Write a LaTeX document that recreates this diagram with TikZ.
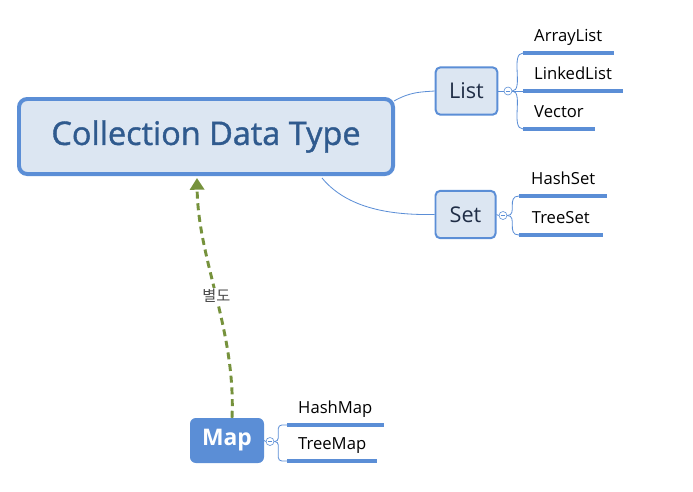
\documentclass[tikz,border=0pt]{standalone}
\usepackage{fontspec}
\setmainfont{Open Sans}
\newfontfamily\krfont{Noto Sans CJK KR}
\newfontfamily\titlefont[FakeBold=1.2]{Open Sans}
\usepackage{xcolor}
\usetikzlibrary{positioning,calc,arrows.meta}

\definecolor{mapblue}{HTML}{5B8ED6}
\definecolor{boxfill}{HTML}{DCE6F2}
\definecolor{titleblue}{HTML}{2F5A8E}
\definecolor{navy}{HTML}{1F2D46}
\definecolor{olive}{HTML}{76923C}

\tikzset{
  topic/.style={draw=mapblue, fill=boxfill, line width=1.7pt, rounded corners=4pt,
    minimum width=1.85cm, minimum height=1.42cm, font=\fontsize{18.5}{22}\selectfont, text=navy},
  leaf/.style={anchor=south west, inner xsep=0.33cm, inner ysep=0.33cm, text depth=0pt,
    font=\fontsize{14.2}{17}\selectfont},
  leafline/.style={draw=mapblue, line width=3pt},
  branch/.style={draw=mapblue, line width=0.7pt},
  knob/.style={circle, draw=mapblue, fill=white, line width=0.5pt, inner sep=0pt,
    minimum size=0.24cm, path picture={\draw[mapblue, line width=0.4pt]
      ([xshift=-1.8pt]path picture bounding box.center) -- ([xshift=1.8pt]path picture bounding box.center);}}
}

\begin{document}
\begin{tikzpicture}[x=0.03cm, y=-0.03cm]
  \useasboundingbox (0,0) rectangle (693,491);

  % Central topic
  \node[draw=mapblue, fill=boxfill, line width=3.4pt, rounded corners=7pt,
    minimum width=11.22cm, minimum height=2.25cm, text=titleblue,
    font=\titlefont\fontsize{27.7}{32}\selectfont] (cdt) at (206,136.5) {Collection Data Type};

  % Main topics
  \node[topic] (list) at (466.5,91) {List};
  \node[topic, minimum width=1.8cm] (set) at (465.5,214.5) {Set};
  \node[fill=mapblue, rounded corners=5pt, minimum width=2.22cm, minimum height=1.35cm,
    text=white, font=\fontsize{19.5}{22}\selectfont\bfseries] (map) at (227,440.5) {Map};

  % Links from the central topic
  \draw[branch] ($(cdt.north east)+(-1,4)$) .. controls (410,92) and (420,92) .. (list.west);
  \draw[branch] ($(cdt.south)+(116,2)$) .. controls (350,212) and (400,215) .. (set.west);

  % Knobs
  \node[knob] (kl) at (508,91) {};
  \node[knob] (ks) at (503,215.5) {};
  \node[knob] (km) at (270,441.5) {};
  \draw[branch] (list.east) -- (kl.west);
  \draw[branch] (set.east) -- (ks.west);
  \draw[branch] (map.east) -- (km.west);

  % List leaves
  \node[leaf] (arr) at (523,53) {ArrayList};
  \node[leaf] (lnk) at (523,91) {LinkedList};
  \node[leaf] (vec) at (523,129) {Vector};
  \foreach \n in {arr,lnk,vec}
    \draw[leafline] (\n.south west) -- (\n.south east);
  \draw[branch] (kl.east) .. controls (524,91) and (510,53) .. (arr.south west);
  \draw[branch] (kl.east) -- (lnk.south west);
  \draw[branch] (kl.east) .. controls (524,91) and (510,129) .. (vec.south west);

  % Set leaves
  \node[leaf, inner xsep=0.36cm] (hs) at (519,196) {HashSet};
  \node[leaf, inner xsep=0.38cm] (ts) at (519,235) {TreeSet};
  \foreach \n in {hs,ts}
    \draw[leafline] (\n.south west) -- (\n.south east);
  \draw[branch] (ks.east) .. controls (518,215.5) and (506,196) .. (hs.south west);
  \draw[branch] (ks.east) .. controls (518,215.5) and (506,235) .. (ts.south west);

  % Map leaves
  \node[leaf, inner xsep=0.33cm] (hm) at (287,425) {HashMap};
  \node[leaf, inner xsep=0.33cm] (tm) at (287,461) {TreeMap};
  \foreach \n in {hm,tm}
    \draw[leafline] (\n.south west) -- (\n.south east);
  \draw[branch, rounded corners=3pt] (km.east) -- ++(4,0) |- (hm.south west);
  \draw[branch, rounded corners=3pt] (km.east) -- ++(4,0) |- (tm.south west);

  % Relationship
  \draw[olive, line width=2.5pt, dash pattern=on 6pt off 4pt,
    -{Triangle[width=12pt, length=10pt]}]
    ($(map.north)+(5,0)$) .. controls (236,330) and (198,260) ..
    node[pos=0.5, fill=white, inner sep=1pt, text=black!70,
      font=\krfont\fontsize{13}{14}\selectfont] (rel) {별도}
    ($(cdt.south)+(-9,2)$);
\end{tikzpicture}
\end{document}
